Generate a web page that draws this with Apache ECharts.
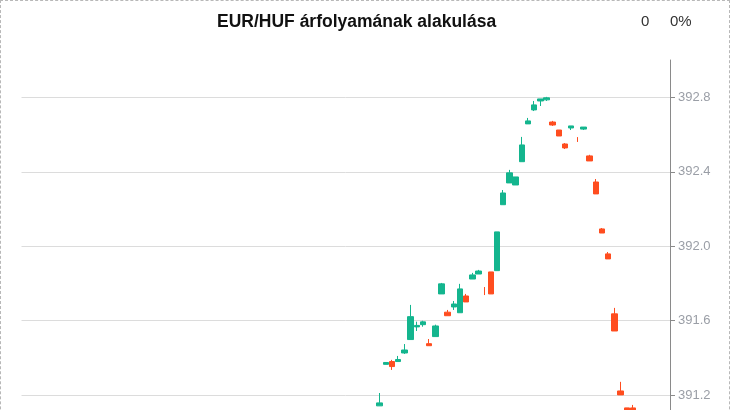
<!DOCTYPE html>
<html>
<head>
<meta charset="utf-8">
<script src="https://cdn.jsdelivr.net/npm/echarts@6/dist/echarts.min.js"></script>
<style>
html,body{margin:0;padding:0;overflow:hidden;background:#fff;}
#c{position:absolute;left:0;top:0;width:730px;height:600px;box-sizing:border-box;border:1px dashed #b8b8b8;}
</style>
</head>
<body>
<div id="c"></div>
<script>
// ---- data ----
const titleText = 'EUR/HUF árfolyamának alakulása';
const changeValue = '0';
const changePct = '0%';
const totalSlots = 106;
const firstIndex = 58; // slot of the first visible candle
// visible candles (open, close, low, high); null = thin-line candle
const opens  = [391.143,391.366,391.381,391.381,391.427,391.499,391.567,391.579,391.477,391.515,391.744,391.646,391.674,391.643,391.733,391.824,391.851,null,391.862,391.869,392.223,392.340,392.329,392.454,392.657,392.732,392.780,392.786,392.667,392.624,392.549,392.635,null,392.629,392.485,392.345,392.093,391.959,391.637,391.223,391.132,391.132];
const closes = [391.159,391.376,391.354,391.392,391.443,391.622,391.575,391.594,391.466,391.572,391.798,391.627,391.690,391.771,391.701,391.846,391.867,null,391.744,392.077,392.286,392.394,392.372,392.544,392.673,392.759,392.791,392.797,392.651,392.592,392.528,392.646,null,392.640,392.458,392.281,392.071,391.932,391.545,391.202,391.100,391.100];
const lows   = [391.143,391.366,391.336,391.381,391.422,391.499,391.545,391.568,391.466,391.515,391.744,391.627,391.658,391.643,391.701,391.824,391.851,null,391.744,391.869,392.223,392.340,392.329,392.454,392.657,392.726,392.753,392.780,392.646,392.592,392.522,392.624,null,392.624,392.458,392.281,392.071,391.932,391.545,391.202,391.100,391.090];
const highs  = [391.212,391.376,391.390,391.411,391.475,391.685,391.595,391.600,391.502,391.579,391.803,391.658,391.706,391.798,391.744,391.857,391.873,null,391.862,392.077,392.302,392.410,392.372,392.587,392.689,392.780,392.791,392.802,392.673,392.624,392.554,392.646,null,392.640,392.491,392.361,392.098,391.969,391.669,391.272,391.132,391.148];
// thin red line candles: [offset, top, bottom]
const thinOffsets = [17, 32];
const thinTops    = [391.781, 392.586];
const thinBottoms = [391.738, 392.560];
const yTicks = [390.4, 390.8, 391.2, 391.6, 392.0, 392.4, 392.8];

// ---- build ----
const categories = [];
for (let i = 0; i < totalSlots; i++) {
  const m = 8 * 60 + i * 5;
  categories.push(String(Math.floor(m / 60)).padStart(2, '0') + ':' + String(m % 60).padStart(2, '0'));
}
const mainData = new Array(totalSlots).fill('-');
const thinData = new Array(totalSlots).fill('-');
for (let k = 0; k < opens.length; k++) {
  if (opens[k] !== null) mainData[firstIndex + k] = [opens[k], closes[k], lows[k], highs[k]];
}
for (let k = 0; k < thinOffsets.length; k++) {
  thinData[firstIndex + thinOffsets[k]] = [thinTops[k], thinBottoms[k], thinBottoms[k], thinTops[k]];
}

const UP = '#14b58e', DOWN = '#ff4d1f';
const chart = echarts.init(document.getElementById('c'), null, {renderer: 'canvas'});
chart.setOption({
  animation: false,
  graphic: [
    {type: 'text', left: 216, top: 12, style: {text: titleText, font: 'bold 17.5px "Liberation Sans", Arial, sans-serif', fill: '#111'}},
    {type: 'text', left: 640, top: 13, style: {text: changeValue, font: '15px "Liberation Sans", Arial, sans-serif', fill: '#333'}},
    {type: 'text', left: 669, top: 13, style: {text: changePct, font: '15px "Liberation Sans", Arial, sans-serif', fill: '#333'}}
  ],
  grid: {left: 20.5, right: 59, top: 59, height: 484.25},
  xAxis: {
    type: 'category', data: categories, boundaryGap: false,
    axisLine: {lineStyle: {color: '#888'}}, axisTick: {show: false},
    axisLabel: {color: '#999'}, splitLine: {show: false}
  },
  yAxis: {
    type: 'value', position: 'right', scale: true,
    min: yTicks[0], max: 393.0, interval: 0.4,
    axisLine: {show: true, lineStyle: {color: '#8a8a8a'}},
    axisTick: {show: true, length: 5, lineStyle: {color: '#8a8a8a'}},
    axisLabel: {color: '#9a9ea6', fontSize: 13, margin: 8, showMaxLabel: false,
      fontFamily: '"Liberation Sans", Arial, sans-serif',
      formatter: v => v.toFixed(1)},
    splitLine: {show: true, showMaxLine: false, lineStyle: {color: '#dcdcdc'}}
  },
  series: [
    {type: 'candlestick', data: mainData, barWidth: 6,
      itemStyle: {color: UP, color0: DOWN, borderColor: UP, borderColor0: DOWN, borderWidth: 1}},
    {type: 'candlestick', data: thinData, barWidth: 1,
      itemStyle: {color: DOWN, color0: DOWN, borderColor: DOWN, borderColor0: DOWN, borderWidth: 1}}
  ]
});
</script>
</body>
</html>
